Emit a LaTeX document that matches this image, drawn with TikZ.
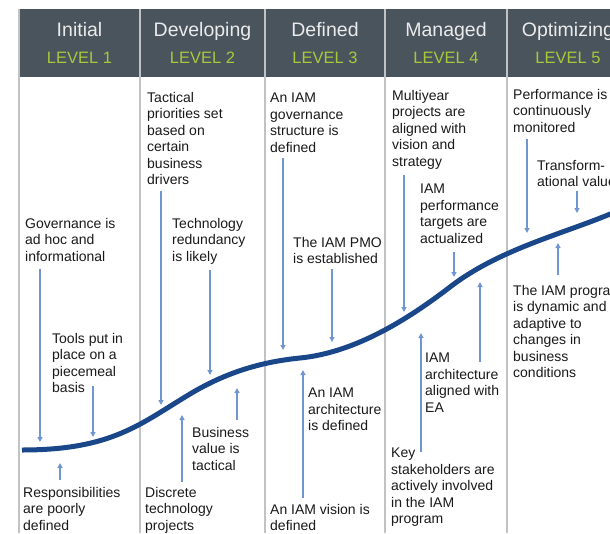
\documentclass[tikz,border=0pt]{standalone}
\usepackage{fontspec}
\setmainfont{Liberation Sans}
\usetikzlibrary{arrows.meta, positioning, calc}
\definecolor{cHead}{RGB}{74,84,93}
\definecolor{cLevel}{RGB}{168,200,60}
\definecolor{cCurve}{RGB}{26,70,138}
\definecolor{cArrow}{RGB}{112,150,210}
\definecolor{cRule}{RGB}{192,194,196}
\tikzset{
	head/.style   ={text=white!92!black, font=\fontsize{19.5}{21}\selectfont, anchor=base, inner sep=0pt},
	lvl/.style    ={text=cLevel, font=\fontsize{16.5}{18}\selectfont, anchor=base, inner sep=0pt},
	note/.style   ={anchor=north west, align=left, inner sep=0pt, text=black!90, font=\fontsize{14}{16.5}\selectfont},
	pin/.style    ={-{Triangle[length=5pt, width=5pt]}, cArrow, line width=1.6pt},
	growth/.style ={line width=5pt, cCurve},
	colrule/.style={cRule, line width=1.2pt},
}
\begin{document}
\begin{tikzpicture}[x=1pt, y=-1pt]
	\path[use as bounding box, clip] (0,0) rectangle (610,533);
	% header band and column rules
	\fill[cHead] (19,9) rectangle (640,77);
	\foreach \cx in {19,140,265,385,507,629} \draw[colrule] (\cx,9) -- (\cx,533);
	\foreach \cx/\name/\n in {79.5/Initial/1, 202.5/Developing/2, 325/Defined/3, 446/Managed/4, 568/Optimizing/5} {
		\node[head] (h\n) at (\cx,36) {\name};
		\node[lvl] (l\n) at (\cx,63) {LEVEL \n};
	}
	% maturity curve
	\draw[growth] (22,450) .. controls (112,450) and (140,424) .. (190,394)
		.. controls (225,373) and (260,362) .. (300,358)
		.. controls (350,353) and (400,325.5) .. (450,287)
		.. controls (500,248.5) and (565,233.5) .. (615,212);
	% level 1
	\node[note] (gov) at (25,218) {Governance is\\ad hoc and\\informational};
	\node[note] (tools) at (52,333) {Tools put in\\place on a\\piecemeal\\basis};
	\node[note] (resp) at (23,487) {Responsibilities\\are poorly\\defined};
	% level 2
	\node[note] (tact) at (147,92) {Tactical\\priorities set\\based on\\certain\\business\\drivers};
	\node[note] (tech) at (172,218) {Technology\\redundancy\\is likely};
	\node[note] (bizval) at (192,427) {Business\\value is\\tactical};
	\node[note] (discrete) at (145,487) {Discrete\\technology\\projects};
	% level 3
	\node[note] (struct) at (270,93) {An IAM\\governance\\structure is\\defined};
	\node[note] (pmo) at (293,237) {The IAM PMO\\is established};
	\node[note] (archdef) at (308,388) {An IAM\\architecture\\is defined};
	\node[note] (vision) at (270,504) {An IAM vision is\\defined};
	% level 4
	\node[note] (multi) at (392,90) {Multiyear\\projects are\\aligned with\\vision and\\strategy};
	\node[note] (targets) at (420,184) {IAM\\performance\\targets are\\actualized};
	\node[note] (archea) at (425,353) {IAM\\architecture\\aligned with\\EA};
	\node[note] (key) at (391,448) {Key\\stakeholders are\\actively involved\\in the IAM\\program};
	% level 5
	\node[note] (monitor) at (513,89) {Performance is\\continuously\\monitored};
	\node[note] (transf) at (537,160) {Transform-\\ational value};
	\node[note] (dynamic) at (513,285) {The IAM program\\is dynamic and\\adaptive to\\changes in\\business\\conditions};
	% arrow tips near the curve
	\coordinate (tGov) at (40,442);
	\coordinate (tTools) at (93,437);
	\coordinate (tResp) at (60,463);
	\coordinate (tTact) at (161,405);
	\coordinate (tTech) at (210,375);
	\coordinate (tBiz) at (237,388);
	\coordinate (tDisc) at (182,415);
	\coordinate (tStruct) at (283,350);
	\coordinate (tPmo) at (332,342);
	\coordinate (tVision) at (303,370);
	\coordinate (tMulti) at (404,312);
	\coordinate (tTargets) at (454,277);
	\coordinate (tArch) at (480,282);
	\coordinate (tKey) at (421,333);
	\coordinate (tMon) at (527,233);
	\coordinate (tTransf) at (577,213);
	\coordinate (tDyn) at (558,243);
	% pointers down onto the curve
	\draw[pin, shorten <=7pt] (gov.south -| tGov) -- (tGov);
	\draw[pin, shorten <=-7.5pt] (tools.south -| tTools) -- (tTools);
	\draw[pin, shorten <=5.5pt] (tact.south -| tTact) -- (tTact);
	\draw[pin, shorten <=6pt] (tech.south -| tTech) -- (tTech);
	\draw[pin, shorten <=5.5pt] (struct.south -| tStruct) -- (tStruct);
	\draw[pin, shorten <=4.5pt] (pmo.south -| tPmo) -- (tPmo);
	\draw[pin, shorten <=6pt] (multi.south -| tMulti) -- (tMulti);
	\draw[pin, shorten <=8.5pt] (targets.south -| tTargets) -- (tTargets);
	\draw[pin, shorten <=6pt] (monitor.south -| tMon) -- (tMon);
	\draw[pin, shorten <=3.5pt] (transf.south -| tTransf) -- (tTransf);
	% pointers up to the curve
	\draw[pin, shorten <=7pt] (resp.north -| tResp) -- (tResp);
	\draw[pin, shorten <=7pt] (bizval.north -| tBiz) -- (tBiz);
	\draw[pin, shorten <=5pt] (discrete.north -| tDisc) -- (tDisc);
	\draw[pin, shorten <=6pt] (vision.north -| tVision) -- (tVision);
	\draw[pin, shorten <=-9pt] (archea.north -| tArch) -- (tArch);
	\draw[pin, shorten <=-4pt] (key.north -| tKey) -- (tKey);
	\draw[pin, shorten <=10pt] (dynamic.north -| tDyn) -- (tDyn);
\end{tikzpicture}
\end{document}
